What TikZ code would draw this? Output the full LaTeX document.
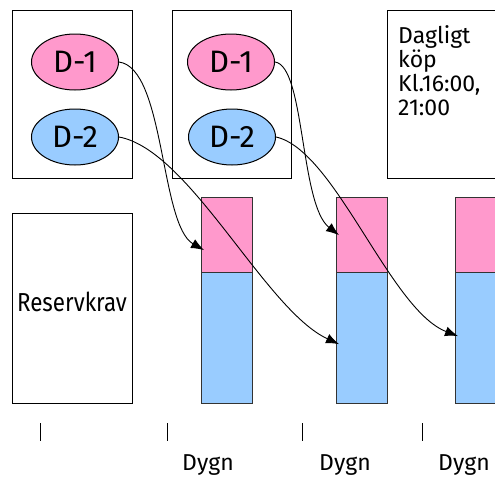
\documentclass[tikz,border=0pt]{standalone}
\usepackage{fontspec}
\setmainfont{Fira Sans}
\usetikzlibrary{shapes.geometric,arrows.meta}

\definecolor{dpink}{HTML}{FF99CC}
\definecolor{dblue}{HTML}{99CCFF}

\tikzset{
  box/.style={draw, line width=1.2pt, inner sep=0pt},
  dnode/.style={ellipse, draw, line width=1pt, minimum width=87pt, minimum height=56pt, inner sep=0pt,
                font=\fontsize{31}{31}\selectfont},
  barpart/.style={draw=black!80, line width=1.2pt, inner sep=0pt, minimum width=51pt, anchor=north west},
  flow/.style={-{Latex[length=13pt,width=10pt]}, line width=0.9pt},
  tick/.style={line width=1pt},
  dygn/.style={font=\fontsize{23}{23}\selectfont}
}

\begin{document}
\begin{tikzpicture}[x=1pt,y=-1pt]
\useasboundingbox (0,0) rectangle (495,479);
\clip (0,0) rectangle (495,479);

% Boxes with the two nodes
\node[box, minimum width=120pt, minimum height=168pt, anchor=north west] (boxa) at (12,10) {};
\node[box, minimum width=119pt, minimum height=168pt, anchor=north west] (boxb) at (172,10) {};
\node[dnode, fill=dpink] (d1a) at (75,62) {D-1};
\node[dnode, fill=dblue] (d2a) at (75,137) {D-2};
\node[dnode, fill=dpink] (d1b) at (231,62) {D-1};
\node[dnode, fill=dblue] (d2b) at (232,137) {D-2};

% Daily purchase
\node[box, minimum width=130pt, minimum height=168pt, anchor=north west] (boxc) at (387,10) {};
\node[anchor=north west, align=left, inner sep=0pt, font=\fontsize{23}{24}\selectfont]
      (kop) at (398,25) {Dagligt\\köp\\Kl.16:00,\\21:00};

% Reserve requirement
\node[box, minimum width=120pt, minimum height=190pt, anchor=north west] (reserv) at (12,213) {};
\node[font=\fontsize{26}{26}\selectfont] (rtext) at (72,302) {\scalebox{0.86}[1]{Reservkrav}};

% Bars per day
\foreach \i/\x in {1/201, 2/336, 3/455} {
  \node[barpart, fill=dpink, minimum height=75pt] (p\i) at (\x,197) {};
  \node[barpart, fill=dblue, minimum height=131pt] (b\i) at (\x,272) {};
}

% Time axis
\foreach \x in {40, 167, 302, 422} {
  \draw[tick] (\x,423) -- (\x,441);
}
\foreach \i/\x in {1/208, 2/345, 3/464} {
  \node[dygn] (dygn\i) at (\x,465) {Dygn};
}

% Flows
\draw[flow] (d1a.east) .. controls (165,68) and (160,225) .. ([yshift=-15pt, xshift=3pt]p1.west);
\draw[flow] (d2a.east) .. controls (190,150) and (265,310) .. ([yshift=-6pt, xshift=3pt]b2.west);
\draw[flow] (d1b.east) .. controls (305,66) and (300,205) .. ([xshift=3pt]p2.west);
\draw[flow] (d2b.east) .. controls (335,150) and (390,310) .. ([xshift=3pt, yshift=2pt]b3.west);

\end{tikzpicture}
\end{document}
